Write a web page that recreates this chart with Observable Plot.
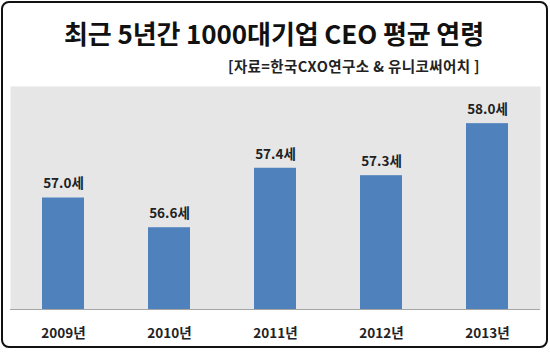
<!DOCTYPE html>
<html><head><meta charset="utf-8">
<script src="https://cdn.jsdelivr.net/npm/d3@7"></script>
<script src="https://cdn.jsdelivr.net/npm/@observablehq/plot@0.6"></script>
<style>
body{margin:0;background:#fff;font-family:"Noto Sans CJK KR","Noto Sans",sans-serif;}
#wrap{position:relative;width:550px;height:352px;overflow:hidden;background:#fff;}
#border{position:absolute;left:1px;top:1px;width:547px;height:347px;border:2px solid #111;border-radius:8px;box-sizing:border-box;pointer-events:none;z-index:2;}
#title{position:absolute;left:0;top:15px;width:548px;text-align:center;font-size:26px;font-weight:bold;color:#111;letter-spacing:-0.1px;line-height:36px;}
#sub{position:absolute;left:228px;top:57px;font-size:14.5px;font-weight:bold;color:#222;line-height:18px;white-space:nowrap;letter-spacing:0.4px;}
#chart{position:absolute;left:0;top:80px;}
</style></head>
<body>
<div id="wrap">
<div id="title">최근 5년간 1000대기업 CEO 평균 연령</div>
<div id="sub">[자료=한국CXO연구소 &amp; 유니코써어치 ]</div>
<div id="chart"></div>
<div id="border"></div>
</div>
<script>
const years = ["2009","2010","2011","2012","2013"];
const ages = [57.0, 56.6, 57.4, 57.3, 58.0];
const yearLabels = ["2009년","2010년","2011년","2012년","2013년"];
const valueLabels = ["57.0세","56.6세","57.4세","57.3세","58.0세"];

const data = years.map((y,i)=>({year:y, age:ages[i], label:valueLabels[i], yl:yearLabels[i]}));

const chart = Plot.plot({
  width: 550,
  height: 272,
  marginLeft: 10,
  marginRight: 10,
  marginTop: 6,
  marginBottom: 43,
  style: {fontFamily: '"Noto Sans CJK KR","Noto Sans",sans-serif', background: "transparent"},
  x: {domain: years, paddingInner: 0.6, paddingOuter: 0.3, axis: null},
  y: {domain: [55.5, 58.5], axis: null},
  marks: [
    Plot.frame({fill: "#e6e6e6", stroke: null}),
    Plot.barY(data, {x: "year", y1: 55.5, y2: "age", fill: "#4f81bd"}),
    Plot.ruleY([55.5], {stroke: "#a6a6a6", strokeWidth: 1}),
    Plot.text(data, {x: "year", y: "age", text: "label", dy: -14, fontSize: 13.5, fontWeight: "bold", fill: "#222"}),
    Plot.text(data, {x: "year", y: 55.5, text: "yl", dy: 24, fontSize: 13.5, fontWeight: "bold", fill: "#222"})
  ]
});
document.getElementById("chart").appendChild(chart);
</script>
</body></html>
